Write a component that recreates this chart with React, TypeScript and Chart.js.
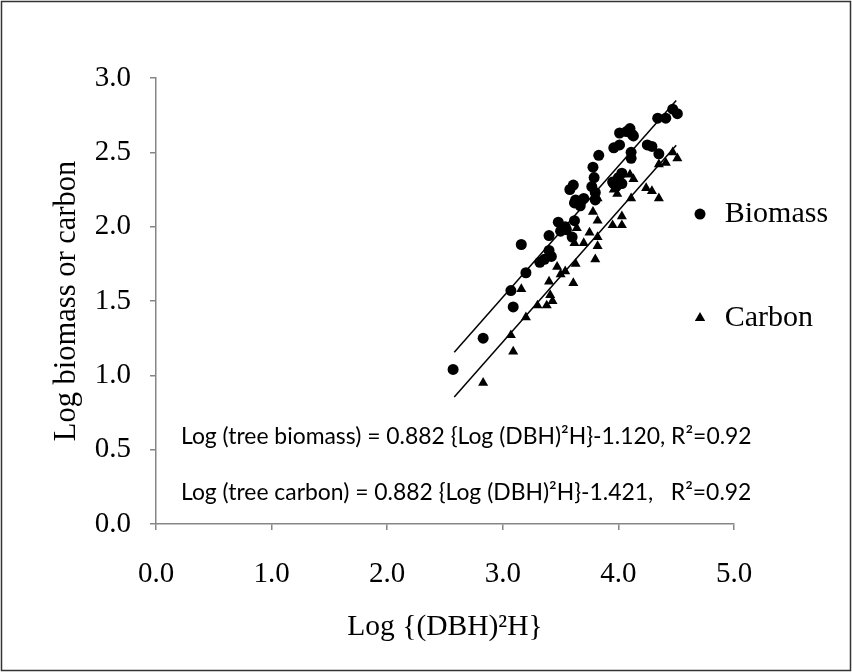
import React, { useEffect, useRef } from "react";
import { Chart, registerables } from "chart.js";

Chart.register(...registerables);

// ---- data ----
const biomassX = [2.57, 2.83, 3.07, 3.09, 3.16, 3.2, 3.32, 3.36, 3.4, 3.4, 3.42, 3.48, 3.5, 3.54, 3.55, 3.58, 3.61, 3.6, 3.62, 3.62, 3.63, 3.67, 3.7, 3.77, 3.78, 3.79, 3.8, 3.8, 3.83, 3.96, 3.95, 3.96, 3.98, 4.0, 4.01, 4.01, 4.03, 4.03, 4.07, 4.1, 4.11, 4.11, 4.12, 4.13, 4.25, 4.29, 4.34, 4.35, 4.41, 4.47, 4.51];
const biomassY = [1.04, 1.25, 1.57, 1.46, 1.88, 1.69, 1.76, 1.78, 1.94, 1.84, 1.8, 2.03, 1.97, 2.0, 1.98, 2.25, 2.28, 1.93, 2.04, 2.16, 2.18, 2.14, 2.19, 2.27, 2.4, 2.33, 2.23, 2.18, 2.48, 2.53, 2.3, 2.29, 2.27, 2.33, 2.63, 2.55, 2.36, 2.29, 2.64, 2.66, 2.5, 2.46, 2.62, 2.61, 2.55, 2.54, 2.73, 2.49, 2.73, 2.79, 2.76];

const carbonX = [2.83, 3.07, 3.09, 3.16, 3.2, 3.3, 3.38, 3.4, 3.41, 3.43, 3.47, 3.5, 3.54, 3.61, 3.63, 3.62, 3.64, 3.7, 3.75, 3.78, 3.8, 3.82, 3.82, 3.82, 3.82, 3.95, 3.96, 3.99, 4.03, 4.03, 4.1, 4.11, 4.13, 4.24, 4.29, 4.35, 4.35, 4.41, 4.47, 4.51];
const carbonY = [0.95, 1.27, 1.16, 1.58, 1.39, 1.47, 1.47, 1.63, 1.54, 1.5, 1.73, 1.68, 1.7, 1.62, 1.75, 1.89, 1.99, 1.89, 1.96, 2.1, 1.78, 1.87, 1.93, 2.04, 2.19, 2.01, 2.25, 2.22, 2.07, 2.01, 2.35, 2.19, 2.32, 2.26, 2.24, 2.19, 2.42, 2.43, 2.5, 2.46];

const fitSlope = 0.882;
const biomassIntercept = -1.12;
const carbonIntercept = -1.421;
const fitRange = [2.58, 4.5];

const seriesLabels = ["Biomass", "Carbon"];
const equations = [
  "Log (tree biomass) = 0.882 {Log (DBH)\u00b2H}-1.120, R\u00b2=0.92",
  "Log (tree carbon) = 0.882 {Log (DBH)\u00b2H}-1.421,   R\u00b2=0.92",
];
const xTitle = "Log {(DBH)\u00b2H}";
const yTitle = "Log biomass or carbon";

// ---- styles ----
const SERIF = "'Liberation Serif', 'Times New Roman', serif";
const AXIS_GRAY = "#868686";

const toPoints = (xs: number[], ys: number[]) => xs.map((x, i) => ({ x, y: ys[i] }));
const fitPoints = (intercept: number) => fitRange.map((x) => ({ x, y: fitSlope * x + intercept }));

const borderPlugin = {
  id: "outerBorder",
  beforeDraw(chart: any) {
    const { ctx, width, height } = chart;
    ctx.save();
    ctx.fillStyle = "#fff";
    ctx.fillRect(0, 0, width, height);
    ctx.strokeStyle = "#333";
    ctx.lineWidth = 1.5;
    ctx.strokeRect(1.5, 1.5, width - 3, height - 3);
    ctx.restore();
  },
};

const legendPlugin = {
  id: "sideLegend",
  afterDraw(chart: any) {
    const { ctx } = chart;
    const xs = chart.scales.x;
    const ys = chart.scales.y;
    const markerX = xs.getPixelForValue(4.706);
    const textX = xs.getPixelForValue(4.92);
    const rows = [2.085, 1.385];
    ctx.save();
    ctx.fillStyle = "#000";
    rows.forEach((v, i) => {
      const y = ys.getPixelForValue(v);
      ctx.beginPath();
      if (i === 0) {
        ctx.arc(markerX, y, 5.5, 0, Math.PI * 2);
      } else {
        const r = 6;
        ctx.moveTo(markerX, y - r);
        ctx.lineTo(markerX + r * 0.866, y + r * 0.5);
        ctx.lineTo(markerX - r * 0.866, y + r * 0.5);
        ctx.closePath();
      }
      ctx.fill();
      ctx.font = `30px ${SERIF}`;
      ctx.textAlign = "left";
      ctx.textBaseline = "middle";
      ctx.fillText(seriesLabels[i], textX, y);
    });
    ctx.restore();
  },
};

const equationPlugin = {
  id: "equations",
  afterDraw(chart: any) {
    const { ctx } = chart;
    const xs = chart.scales.x;
    const ys = chart.scales.y;
    const x0 = xs.getPixelForValue(0.216);
    const rows = [0.585, 0.208];
    ctx.save();
    ctx.font = `25px Lato, 'Open Sans', sans-serif`;
    const w = ctx.measureText(equations[0]).width;
    const size = (25 * 571) / w;
    ctx.font = `${size}px Lato, 'Open Sans', sans-serif`;
    ctx.fillStyle = "#000";
    ctx.textAlign = "left";
    ctx.textBaseline = "middle";
    rows.forEach((v, i) => ctx.fillText(equations[i], x0, ys.getPixelForValue(v)));
    ctx.restore();
  },
};

export default function App() {
  const ref = useRef<HTMLCanvasElement | null>(null);

  useEffect(() => {
    document.body.style.margin = "0";
    const canvas = ref.current!;
    const chart = new Chart(canvas, {
      type: "scatter",
      data: {
        datasets: [
          {
            label: seriesLabels[0],
            data: toPoints(biomassX, biomassY),
            pointStyle: "circle",
            pointRadius: 5.5,
            backgroundColor: "#000",
            borderColor: "#000",
            borderWidth: 0,
          },
          {
            label: seriesLabels[1],
            data: toPoints(carbonX, carbonY),
            pointStyle: "triangle",
            pointRadius: 5.8,
            backgroundColor: "#000",
            borderColor: "#000",
            borderWidth: 0,
          },
          {
            label: "Biomass fit",
            data: fitPoints(biomassIntercept),
            showLine: true,
            pointRadius: 0,
            borderColor: "#000",
            borderWidth: 1.5,
          },
          {
            label: "Carbon fit",
            data: fitPoints(carbonIntercept),
            showLine: true,
            pointRadius: 0,
            borderColor: "#000",
            borderWidth: 1.5,
          },
        ],
      },
      options: {
        responsive: false,
        animation: false,
        devicePixelRatio: 1,
        layout: { padding: { left: 0, top: 78, right: 118, bottom: 0 } },
        plugins: {
          legend: { display: false },
          tooltip: { enabled: false },
        },
        scales: {
          x: {
            type: "linear",
            min: 0,
            max: 5,
            afterFit: (s: any) => {
              s.height = 148;
            },
            ticks: {
              stepSize: 1,
              callback: (v: any) => Number(v).toFixed(1),
              color: "#000",
              font: { family: SERIF, size: 29 },
              padding: 27,
            },
            grid: { display: true, drawOnChartArea: false, drawTicks: true, tickLength: 6, color: AXIS_GRAY, lineWidth: 1.5 },
            border: { color: AXIS_GRAY, width: 1.5 },
            title: {
              display: true,
              text: xTitle,
              color: "#000",
              font: { family: SERIF, size: 29.5 },
              padding: { top: 0, bottom: 27 },
            },
          },
          y: {
            type: "linear",
            min: 0,
            max: 3,
            afterFit: (s: any) => {
              s.width = 156;
            },
            ticks: {
              stepSize: 0.5,
              callback: (v: any) => Number(v).toFixed(1),
              color: "#000",
              font: { family: SERIF, size: 29 },
              padding: 19,
            },
            grid: { display: true, drawOnChartArea: false, drawTicks: true, tickLength: 6, color: AXIS_GRAY, lineWidth: 1.5 },
            border: { color: AXIS_GRAY, width: 1.5 },
            title: {
              display: true,
              text: yTitle,
              color: "#000",
              font: { family: SERIF, size: 30.5 },
              padding: { top: 49, bottom: 0 },
            },
          },
        },
      },
      plugins: [borderPlugin, legendPlugin, equationPlugin],
    } as any);
    return () => chart.destroy();
  }, []);

  return (
    <div style={{ width: 852, height: 672 }}>
      <canvas ref={ref} width={852} height={672} style={{ display: "block", width: 852, height: 672 }} />
    </div>
  );
}
